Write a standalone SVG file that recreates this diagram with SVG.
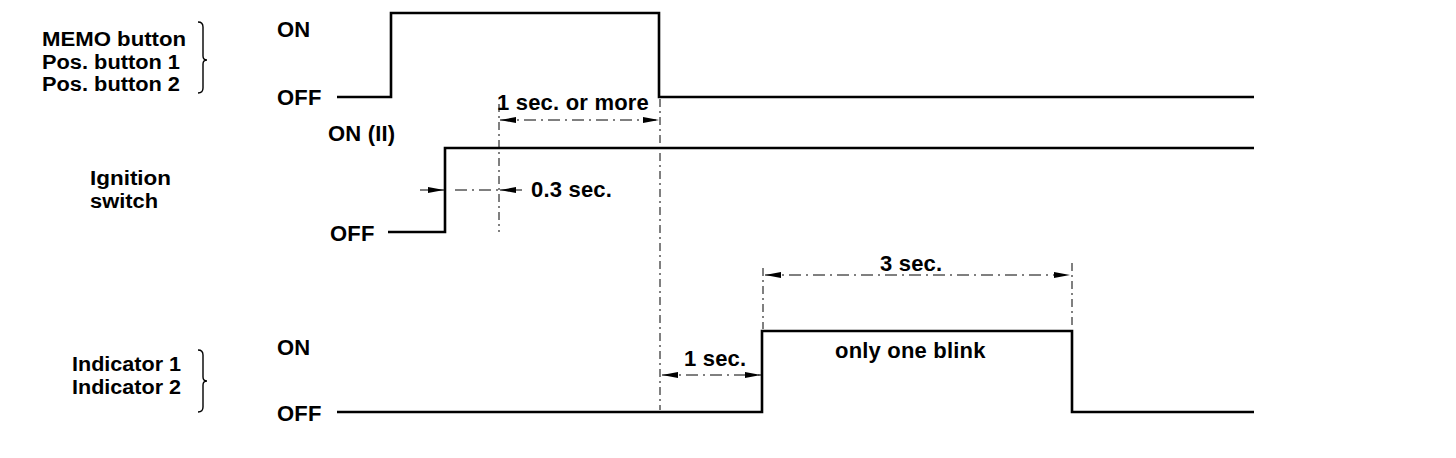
<svg xmlns="http://www.w3.org/2000/svg" width="1456" height="458" viewBox="0 0 1456 458">
<defs>
<style>
text{font-family:"Liberation Sans",Arial,sans-serif;font-weight:bold;font-size:22px;letter-spacing:0.2px;fill:#000}
text.lbl{font-size:20px;letter-spacing:0}
.sig{fill:none;stroke:#000;stroke-width:2.6}
.guide{fill:none;stroke:#000;stroke-width:1;stroke-dasharray:8 4 2 4}
.dim{fill:none;stroke:#000;stroke-width:1;stroke-dasharray:12 5 2 5}
.brace{fill:none;stroke:#000;stroke-width:1.4}
</style>
<marker id="ah" viewBox="0 0 16 7" refX="16" refY="3.5" markerWidth="16" markerHeight="7" markerUnits="userSpaceOnUse" orient="auto-start-reverse">
<path d="M0,0.5 L16,3.5 L0,6.5 Z" fill="#000"/>
</marker>
</defs>
<rect width="1456" height="458" fill="#fff"/>
<g id="label-memo">
<text class="lbl" x="42" y="46" textLength="144" lengthAdjust="spacingAndGlyphs">MEMO button</text>
<text class="lbl" x="42" y="68.5" textLength="138" lengthAdjust="spacingAndGlyphs">Pos. button 1</text>
<text class="lbl" x="42" y="91" textLength="138" lengthAdjust="spacingAndGlyphs">Pos. button 2</text>
<path class="brace" d="M198,22 Q203,22 203,27 L203,56 Q203,60 207,60 Q203,60 203,64 L203,88 Q203,93 198,93"/>
</g>
<g id="label-ignition">
<text class="lbl" x="90" y="185" textLength="81" lengthAdjust="spacingAndGlyphs">Ignition</text>
<text class="lbl" x="90" y="207.5" textLength="68" lengthAdjust="spacingAndGlyphs">switch</text>
</g>
<g id="label-indicator">
<text class="lbl" x="72" y="371" textLength="109" lengthAdjust="spacingAndGlyphs">Indicator 1</text>
<text class="lbl" x="72" y="393.5" textLength="109" lengthAdjust="spacingAndGlyphs">Indicator 2</text>
<path class="brace" d="M198,350 Q203,350 203,355 L203,377 Q203,381 207,381 Q203,381 203,385 L203,407 Q203,412 198,412"/>
</g>
<g id="levels">
<text x="277" y="37">ON</text>
<text x="277" y="105">OFF</text>
<text x="328" y="141">ON (II)</text>
<text x="330" y="241">OFF</text>
<text x="277" y="355">ON</text>
<text x="277" y="421">OFF</text>
</g>
<g id="signal-memo"><path class="sig" d="M337,97 H391 V13 H659 V97 H1254"/></g>
<g id="signal-ignition"><path class="sig" d="M388,232 H445 V148 H1254"/></g>
<g id="signal-indicator"><path class="sig" d="M337,412 H762 V331 H1072 V412 H1254"/></g>
<g id="connectors">
<line class="guide" x1="499" y1="104" x2="499" y2="232"/>
<line class="guide" x1="660" y1="99" x2="660" y2="410"/>
<line class="guide" x1="763" y1="268" x2="763" y2="329"/>
<line class="guide" x1="1072" y1="263" x2="1072" y2="329"/>
<line class="dim" x1="500" y1="120" x2="659" y2="120" marker-start="url(#ah)" marker-end="url(#ah)"/>
<line x1="420" y1="190" x2="444" y2="190" stroke="#000" stroke-width="1" marker-end="url(#ah)"/>
<line class="dim" x1="455" y1="190" x2="498" y2="190"/>
<line x1="522" y1="190" x2="500" y2="190" stroke="#000" stroke-width="1" marker-end="url(#ah)"/>
<line class="dim" x1="765" y1="275" x2="1070" y2="275" marker-start="url(#ah)" marker-end="url(#ah)"/>
<line class="dim" x1="662" y1="375" x2="761" y2="375" marker-start="url(#ah)" marker-end="url(#ah)"/>
</g>
<g id="dim-labels">
<text x="497" y="110">1 sec. or more</text>
<text x="531" y="197">0.3 sec.</text>
<text x="880" y="271">3 sec.</text>
<text x="835" y="358">only one blink</text>
<text x="684" y="366">1 sec.</text>
</g>
</svg>
